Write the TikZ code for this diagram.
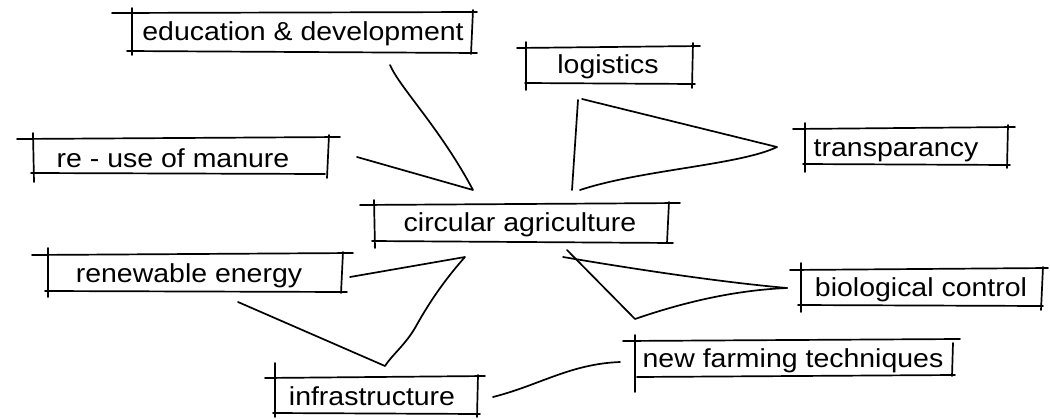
\documentclass[tikz,border=0pt]{standalone}
\usepackage{fontspec}
\setmainfont{Liberation Sans}[FakeStretch=1.095]
\begin{document}
\begin{tikzpicture}[x=1pt,y=-1pt,
  pen/.style={line width=1.7pt, line cap=round, line join=round},
  tag/.style={anchor=base, inner sep=0pt, font=\fontsize{26}{30}\selectfont}]
\useasboundingbox (0,0) rectangle (1050,418);

% ---- labels ----
\node[tag] (edu)   at (303,40)  {education \& development};
\node[tag] (log)   at (608,73)  {logistics};
\node[tag] (reuse) at (173,167) {re - use of manure};
\node[tag] (circ)  at (520,231) {circular agriculture};
\node[tag] (trans) at (896,156) {transparancy};
\node[tag] (renew) at (189,282) {renewable energy};
\node[tag] (bio)   at (921,296) {biological control};
\node[tag] (infra) at (372,405) {infrastructure};
\node[tag] (farm)  at (793,367) {new farming techniques};

% ---- hand-drawn frames: overshooting top/bottom strokes and side ticks ----
% education & development
\draw[pen] (112,13) -- (477,12);
\draw[pen] (127,51) -- (477,53);
\draw[pen] (132,8) -- (132,55);
\draw[pen] (473,10) -- (471,54);
% logistics
\draw[pen] (517,48) -- (700,46);
\draw[pen] (525,83) -- (695,84);
\draw[pen] (526,42) -- (526,90);
\draw[pen] (693,43) -- (692,88);
% re - use of manure
\draw[pen] (17,139) -- (340,137);
\draw[pen] (31,173) -- (325,174);
\draw[pen] (33,133) -- (34,182);
\draw[pen] (329,135) -- (327,178);
% circular agriculture
\draw[pen] (360,205) -- (680,203);
\draw[pen] (372,241) -- (673,243);
\draw[pen] (374,200) -- (375,248);
\draw[pen] (669,202) -- (667,243);
% transparancy
\draw[pen] (793,129) -- (1015,127);
\draw[pen] (803,164) -- (1010,165);
\draw[pen] (805,123) -- (805,172);
\draw[pen] (1008,125) -- (1007,168);
% renewable energy
\draw[pen] (32,255) -- (353,253);
\draw[pen] (45,291) -- (347,292);
\draw[pen] (48,248) -- (48,297);
\draw[pen] (343,252) -- (341,293);
% biological control
\draw[pen] (790,270) -- (1048,268);
\draw[pen] (798,305) -- (1043,306);
\draw[pen] (801,263) -- (801,312);
\draw[pen] (1043,267) -- (1041,310);
% infrastructure
\draw[pen] (265,378) -- (485,376);
\draw[pen] (273,413) -- (480,414);
\draw[pen] (275,363) -- (275,417);
\draw[pen] (478,375) -- (477,417);
% new farming techniques
\draw[pen] (623,341) -- (960,339);
\draw[pen] (637,377) -- (955,375);
\draw[pen] (635,335) -- (635,392);
\draw[pen] (953,343) -- (952,376);

% ---- connector end points ----
\coordinate (edu-foot)    at (390,65);
\coordinate (circ-nw)     at (473,190);
\coordinate (reuse-tip)   at (357,157);
\coordinate (log-foot-a)  at (578,100);
\coordinate (log-foot-b)  at (582,99);
\coordinate (circ-n-a)    at (572,190);
\coordinate (circ-n-b)    at (580,190);
\coordinate (trans-tip)   at (777,147);
\coordinate (renew-tip)   at (350,277);
\coordinate (circ-sw)     at (465,257);
\coordinate (infra-head)  at (385,366);
\coordinate (renew-foot)  at (238,302);
\coordinate (circ-se-a)   at (563,257);
\coordinate (circ-se-b)   at (567,250);
\coordinate (bio-tip)     at (787,288);
\coordinate (bio-turn)    at (635,319);
\coordinate (infra-tip)   at (493,397);
\coordinate (farm-tip)    at (620,362);

% ---- connectors ----
\draw[pen] (edu-foot) .. controls (400,88) and (440,128) .. (circ-nw) -- (reuse-tip);
\draw[pen] (circ-n-a) -- (log-foot-a);
\draw[pen] (log-foot-b) -- (trans-tip) .. controls (740,165) and (640,170) .. (circ-n-b);
\draw[pen] (renew-tip) -- (circ-sw) .. controls (440,285) and (425,310) .. (415,328)
           .. controls (405,345) and (392,355) .. (infra-head) -- (renew-foot);
\draw[pen] (circ-se-a) .. controls (640,270) and (720,282) .. (bio-tip);
\draw[pen] (circ-se-b) -- (bio-turn) .. controls (690,300) and (740,290) .. (bio-tip);
\draw[pen] (infra-tip) .. controls (540,385) and (570,364) .. (farm-tip);
\end{tikzpicture}
\end{document}
